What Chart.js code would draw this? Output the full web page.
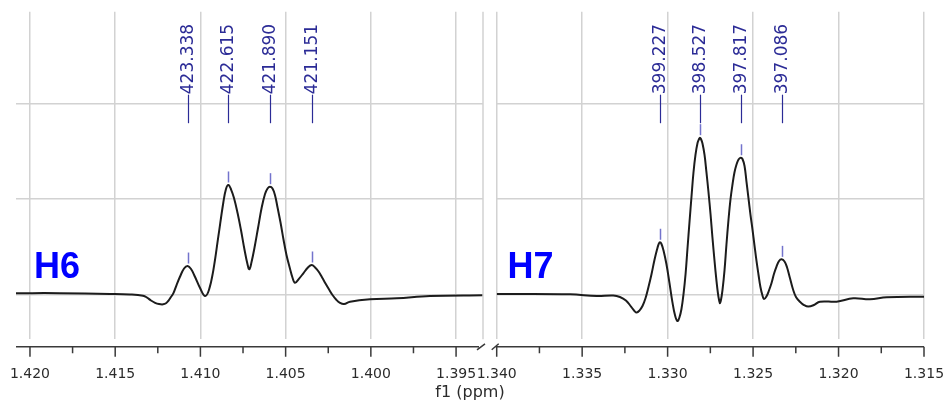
<!DOCTYPE html>
<html>
<head>
<meta charset="utf-8">
<script src="https://cdn.jsdelivr.net/npm/chart.js@4.4.1/dist/chart.umd.min.js"></script>
<style>
  html, body { margin: 0; padding: 0; background: #ffffff; }
  #wrap { position: relative; width: 947px; height: 401px; overflow: hidden; background: #fff; }
  #wrap canvas { position: absolute; left: 0; top: 0; }
</style>
</head>
<body>
<div id="wrap">
  <canvas id="c1" width="947" height="401"></canvas>
  <canvas id="c2" width="947" height="401"></canvas>
</div>
<script>
// ---------------- DATA ----------------
// H6 multiplet: chemical shift (ppm) and intensity (arbitrary units)
const h6Ppm = [1.42082, 1.41824, 1.41531, 1.41413, 1.41337, 1.41313, 1.41290, 1.41266, 1.41243, 1.41219,
               1.41202, 1.41187, 1.41173, 1.41159, 1.41140, 1.41120,
               1.41096, 1.41075, 1.41055, 1.41032, 1.41002, 1.40973, 1.40950, 1.40924, 1.40895, 1.40866,
               1.40850, 1.40836, 1.40820, 1.40803, 1.40782, 1.40762, 1.40741, 1.40724, 1.40713, 1.40700,
               1.40683, 1.40662, 1.40641, 1.40621, 1.40606, 1.40592, 1.40577, 1.40562, 1.40548, 1.40530,
               1.40512, 1.40495, 1.40474, 1.40460, 1.40445, 1.40421, 1.40396, 1.40369, 1.40347, 1.40327,
               1.40307, 1.40286, 1.40266, 1.40245, 1.40225, 1.40204, 1.40181, 1.40157, 1.40122, 1.40005,
               1.39848, 1.39653, 1.39342];
const h6Int = [0.012, 0.012, 0.004, -0.002, -0.015, -0.034, -0.065, -0.089, -0.102, -0.105,
               -0.094, -0.065, -0.028, 0.010, 0.097, 0.184,
               0.270, 0.296, 0.265, 0.184, 0.066, -0.018, 0.045, 0.254, 0.603, 0.956,
               1.103, 1.145, 1.097, 1.008, 0.851, 0.673, 0.464, 0.317, 0.262, 0.338,
               0.485, 0.694, 0.904, 1.050, 1.108, 1.127, 1.108, 1.035, 0.914, 0.752,
               0.569, 0.412, 0.265, 0.176, 0.121, 0.165, 0.220, 0.281, 0.307, 0.281,
               0.239, 0.176, 0.113, 0.050, -0.007, -0.054, -0.089, -0.102, -0.077, -0.052,
               -0.042, -0.018, -0.010];

// H7 multiplet
const h7Ppm = [1.34000, 1.33571, 1.33415, 1.33318, 1.33279, 1.33244, 1.33214, 1.33194, 1.33181, 1.33165,
               1.33147, 1.33129, 1.33112, 1.33094, 1.33077, 1.33062, 1.33052, 1.33045, 1.33036, 1.33024,
               1.33007, 1.32989, 1.32972, 1.32957, 1.32943, 1.32931, 1.32919, 1.32907, 1.32895, 1.32884,
               1.32872, 1.32860, 1.32849, 1.32837, 1.32825, 1.32816, 1.32811, 1.32805, 1.32796, 1.32784,
               1.32773, 1.32761, 1.32749, 1.32738, 1.32726, 1.32714, 1.32705, 1.32699, 1.32694, 1.32688,
               1.32679, 1.32667, 1.32656, 1.32644, 1.32632, 1.32620, 1.32609, 1.32597, 1.32585, 1.32572,
               1.32562, 1.32550, 1.32539, 1.32527, 1.32515, 1.32503, 1.32492, 1.32480, 1.32468, 1.32457,
               1.32445, 1.32436, 1.32422, 1.32407, 1.32392, 1.32378, 1.32363, 1.32348, 1.32333, 1.32316,
               1.32302, 1.32284, 1.32267, 1.32249, 1.32226, 1.32202, 1.32177, 1.32144, 1.32109, 1.32011,
               1.31914, 1.31816, 1.31718, 1.31500];
const h7Int = [0.003, 0.000, -0.018, -0.013, -0.028, -0.065, -0.128, -0.175, -0.191, -0.170,
               -0.123, -0.039, 0.076, 0.213, 0.359, 0.469, 0.527, 0.545, 0.527, 0.459,
               0.317, 0.118, -0.081, -0.217, -0.280, -0.243, -0.154, 0.003, 0.213, 0.474,
               0.757, 1.029, 1.270, 1.459, 1.584, 1.626, 1.640, 1.626, 1.579, 1.459,
               1.281, 1.071, 0.841, 0.600, 0.359, 0.139, 0.003, -0.060, -0.094, -0.060,
               0.045, 0.254, 0.516, 0.778, 0.998, 1.155, 1.275, 1.359, 1.412, 1.430,
               1.417, 1.343, 1.186, 1.008, 0.830, 0.673, 0.516, 0.349, 0.202, 0.076,
               -0.013, -0.049, -0.023, 0.040, 0.118, 0.213, 0.291, 0.349, 0.366, 0.343,
               0.286, 0.168, 0.055, -0.028, -0.077, -0.112, -0.128, -0.112, -0.077, -0.077,
               -0.042, -0.052, -0.031, -0.025];

// Peak picks (position in ppm, height, label in Hz)
const h6PickPpm = [1.41075, 1.40836, 1.40592, 1.40347];
const h6PickInt = [0.296, 1.145, 1.127, 0.307];
const h6PickHz  = ['423.338', '422.615', '421.890', '421.151'];
const h7PickPpm = [1.33045, 1.32811, 1.32572, 1.32333];
const h7PickInt = [0.545, 1.640, 1.430, 0.366];
const h7PickHz  = ['399.227', '398.527', '397.817', '397.086'];

// Axis ranges and ticks (ppm)
const h6Range = [1.39342, 1.42082];
const h7Range = [1.31500, 1.34000];
const h6Major = [1.420, 1.415, 1.410, 1.405, 1.400, 1.395];
const h6Minor = [1.4175, 1.4125, 1.4075, 1.4025, 1.3975];
const h7Major = [1.340, 1.335, 1.330, 1.325, 1.320, 1.315];
const h7Minor = [1.3375, 1.3325, 1.3275, 1.3225, 1.3175];
const yRange = [-0.471, 2.959];
const yGrid = [0, 1, 2];

// Panel names and their anchor (ppm, intensity)
const panelNames = ['H6', 'H7'];
const panelAnchorPpm = [1.41977, 1.33937];
const panelAnchorInt = [0.176, 0.176];
const axisTitle = 'f1 (ppm)';

// ---------------- STYLE ----------------
const GRID = '#d2d2d2';
const AXIS = '#3a3a3a';
const LINE = '#1c1c1c';
const PICK_TEXT = '#2b2b96';
const PICK_MARK = '#7373cc';
const FONT = '"DejaVu Sans", Verdana, sans-serif';

let leftChart = null;

function overlayPlugin(opts) {
  return {
    id: 'overlay_' + opts.name,
    afterDraw(chart) {
      const ctx = chart.ctx, xs = chart.scales.x, ys = chart.scales.y, ca = chart.chartArea;
      ctx.save();
      // right border of the left panel
      if (opts.side === 'left') {
        ctx.strokeStyle = GRID; ctx.lineWidth = 1.5;
        ctx.beginPath(); ctx.moveTo(ca.right, ca.top); ctx.lineTo(ca.right, ca.bottom); ctx.stroke();
      }
      // axis line with break marks
      const axY = ca.bottom + 7.5;
      ctx.strokeStyle = AXIS; ctx.lineWidth = 1.5;
      ctx.beginPath();
      if (opts.side === 'left') {
        ctx.moveTo(ca.left, axY); ctx.lineTo(ca.right - 4, axY);
        ctx.moveTo(ca.right - 6, axY + 3); ctx.lineTo(ca.right + 2, axY - 3);
      } else {
        ctx.moveTo(ca.left - 1, axY); ctx.lineTo(ca.right, axY);
        ctx.moveTo(ca.left - 5, axY + 3); ctx.lineTo(ca.left + 2, axY - 3);
      }
      ctx.stroke();
      // tick marks
      ctx.beginPath();
      opts.major.forEach(v => { const px = xs.getPixelForValue(v); ctx.moveTo(px, axY); ctx.lineTo(px, axY + 10); });
      opts.minor.forEach(v => { const px = xs.getPixelForValue(v); ctx.moveTo(px, axY); ctx.lineTo(px, axY + 6.5); });
      ctx.stroke();
      // peak picks
      for (let i = 0; i < opts.pickPpm.length; i++) {
        const px = Math.round(xs.getPixelForValue(opts.pickPpm[i])) + 0.5;
        const py = ys.getPixelForValue(opts.pickInt[i]);
        ctx.strokeStyle = PICK_MARK; ctx.lineWidth = 1.5;
        ctx.beginPath(); ctx.moveTo(px, py - 2.5); ctx.lineTo(px, py - 13.5); ctx.stroke();
        ctx.strokeStyle = PICK_TEXT; ctx.lineWidth = 1.2;
        ctx.beginPath(); ctx.moveTo(px, ca.top + 111.5); ctx.lineTo(px, ca.top + 83); ctx.stroke();
        ctx.save();
        ctx.translate(px, ca.top + 83);
        ctx.rotate(-Math.PI / 2);
        ctx.fillStyle = PICK_TEXT;
        ctx.font = '17px ' + FONT;
        ctx.textAlign = 'left'; ctx.textBaseline = 'middle';
        ctx.fillText(opts.pickHz[i], 0.5, 0.5);
        ctx.restore();
      }
      // panel name
      ctx.fillStyle = '#0000ff';
      ctx.font = 'bold 36px "Liberation Sans", Arial, sans-serif';
      ctx.textAlign = 'left'; ctx.textBaseline = 'alphabetic';
      ctx.fillText(opts.name, xs.getPixelForValue(opts.anchorPpm), ys.getPixelForValue(opts.anchorInt));
      // axis title (drawn once, centred under both panels)
      if (opts.side === 'right' && leftChart) {
        const cx = (leftChart.chartArea.left + ca.right) / 2;
        ctx.fillStyle = '#2b2b2b';
        ctx.font = '16px ' + FONT;
        ctx.textAlign = 'center'; ctx.textBaseline = 'alphabetic';
        ctx.fillText(axisTitle, cx, ca.bottom + 57.7);
      }
      ctx.restore();
    }
  };
}

function makeChart(canvasId, side, ppm, intens, range, major, minor, pick, name, anchor, padding) {
  const pts = ppm.map((p, i) => ({ x: p, y: intens[i] }));
  return new Chart(document.getElementById(canvasId), {
    type: 'line',
    data: { datasets: [{
      data: pts, borderColor: LINE, borderWidth: 2, pointRadius: 0,
      tension: 0.4, fill: false
    }]},
    options: {
      responsive: false, animation: false, devicePixelRatio: 1,
      layout: { padding: padding },
      plugins: { legend: { display: false }, tooltip: { enabled: false } },
      scales: {
        x: {
          type: 'linear', reverse: true, min: range[0], max: range[1], bounds: 'data',
          afterBuildTicks: s => { s.ticks = major.map(v => ({ value: v })); },
          afterFit: s => { s.height = 61.7; },
          ticks: { callback: v => Number(v).toFixed(3), font: { family: FONT, size: 14 }, color: '#2b2b2b',
                   padding: 0, maxRotation: 0, minRotation: 0, autoSkip: false },
          grid: { color: GRID, lineWidth: 1.5, drawTicks: true, tickLength: 27, tickColor: 'rgba(0,0,0,0)' },
          border: { display: false }
        },
        y: {
          min: yRange[0], max: yRange[1],
          afterBuildTicks: s => { s.ticks = yGrid.map(v => ({ value: v })); },
          afterFit: s => { s.width = 0; },
          ticks: { display: false },
          grid: { color: GRID, lineWidth: 1.5, drawTicks: false },
          border: { display: false }
        }
      }
    },
    plugins: [overlayPlugin({
      side: side, name: name, major: major, minor: minor,
      pickPpm: pick[0], pickInt: pick[1], pickHz: pick[2],
      anchorPpm: anchor[0], anchorInt: anchor[1]
    })]
  });
}

leftChart = makeChart('c1', 'left', h6Ppm, h6Int, h6Range, h6Major, h6Minor,
  [h6PickPpm, h6PickInt, h6PickHz], panelNames[0], [panelAnchorPpm[0], panelAnchorInt[0]],
  { left: 16, right: 464, top: 11.7, bottom: 0 });
makeChart('c2', 'right', h7Ppm, h7Int, h7Range, h7Major, h7Minor,
  [h7PickPpm, h7PickInt, h7PickHz], panelNames[1], [panelAnchorPpm[1], panelAnchorInt[1]],
  { left: 496.7, right: 23, top: 11.7, bottom: 0 });
</script>
</body>
</html>
